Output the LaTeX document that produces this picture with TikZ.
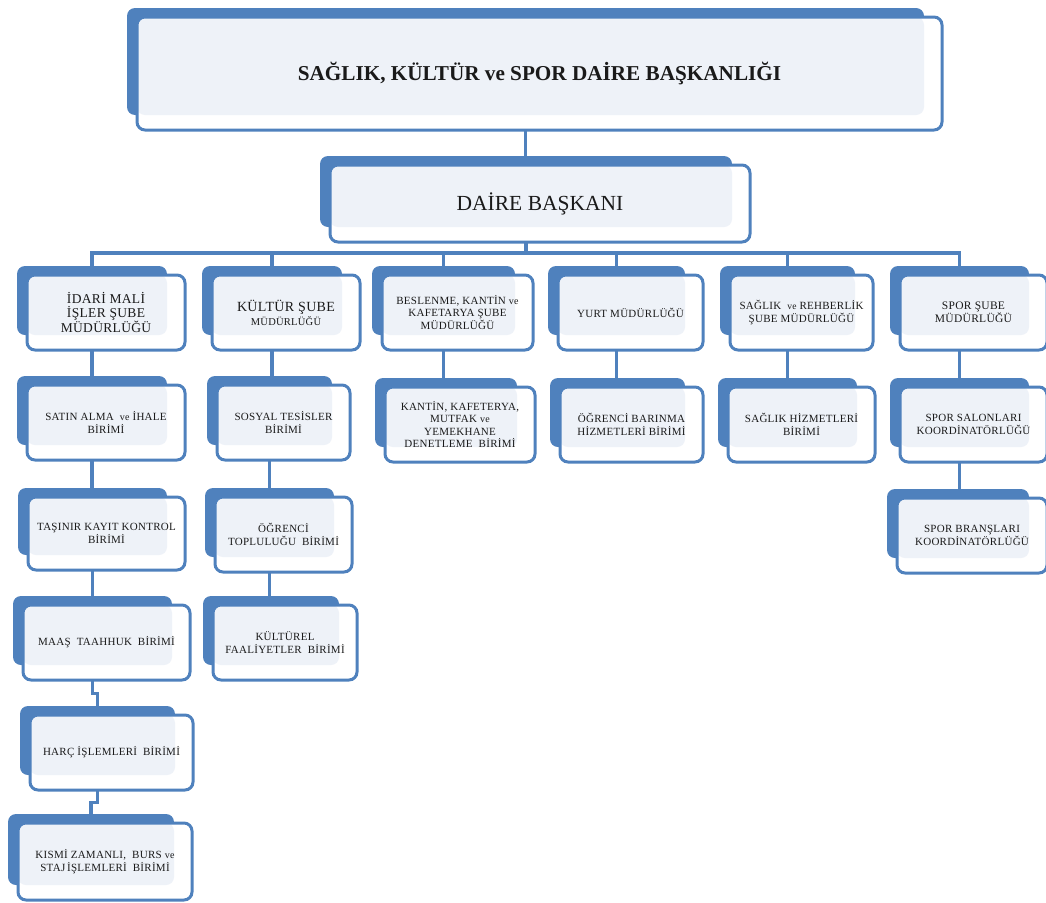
\documentclass[tikz,border=0pt]{standalone}
\usepackage{fontspec}
\setmainfont{Liberation Serif}
\newfontfamily\bxf[LetterSpace=2.5]{Liberation Serif}
\usetikzlibrary{backgrounds,calc}
\definecolor{obl}{HTML}{4F81BD}
\definecolor{olt}{HTML}{EEF2F8}
\definecolor{otx}{HTML}{1A1A1A}
\tikzset{
 backbox/.style={fill=obl, rounded corners=8pt, inner sep=0pt},
 frontbox/.style={draw=obl, line width=3pt, fill=white, rounded corners=8pt, inner sep=0pt, align=center, text=otx,
   path picture={\fill[olt] (path picture bounding box.north west) rectangle ([xshift=-18pt,yshift=15pt]path picture bounding box.south east);}},
 link/.style={draw=obl, line width=3.5pt},
}
\newcommand\orgbox[7]{%
 \pgfmathsetmacro\ocx{(#2+#4)/2}\pgfmathsetmacro\ocy{(#3+#5)/2}%
 \pgfmathsetmacro\ow{#4-#2}\pgfmathsetmacro\oh{#5-#3}%
 \node[backbox, minimum width=\ow pt-8pt, minimum height=\oh pt-6pt] (#1-b) at (\ocx-14,\ocy-12) {};
 \node[frontbox, minimum width=\ow pt, minimum height=\oh pt, font=#6] (#1) at (\ocx,\ocy) {#7};
}
\newcommand\fs[2]{\fontsize{#1}{#2}\selectfont}
\newcommand\sm{\bxf\fs{11}{12.5}}
\begin{document}
\begin{tikzpicture}[x=1pt,y=-1pt]
\useasboundingbox (0,0) rectangle (1046,902);
\orgbox{title}{137}{17}{942}{130}{\bfseries\fs{21.2}{24}}{SAĞLIK, KÜLTÜR ve SPOR DAİRE BAŞKANLIĞI}
\orgbox{daire}{330}{165}{750}{242}{\fs{21.5}{24}}{DAİRE BAŞKANI}
% row 1
\orgbox{idari}{27}{275}{185}{350}{\bxf\fs{13.5}{14}}{İDARİ MALİ\\İŞLER ŞUBE\\MÜDÜRLÜĞÜ}
\orgbox{kultur}{212}{275}{360}{350}{\bxf\fs{14}{14}}{KÜLTÜR ŞUBE\\{\fs{10.5}{14}MÜDÜRLÜĞÜ}}
\orgbox{beslenme}{382}{275}{533}{350}{\bxf\fs{11}{12.5}}{BESLENME, KANTİN {\fs{10}{10}ve}\\KAFETARYA ŞUBE\\{\fs{11}{12.5}MÜDÜRLÜĞÜ}}
\orgbox{yurt}{558}{275}{703}{350}{\bxf\fs{11}{12.5}}{YURT MÜDÜRLÜĞÜ}
\orgbox{saglik}{730}{275}{873}{350}{\bxf\fs{11}{12.5}}{SAĞLIK \ {\fs{9.5}{10}ve} REHBERLİK\\{\fs{11}{12.5}ŞUBE MÜDÜRLÜĞÜ}}
\orgbox{spor}{900}{275}{1047}{350}{\bxf\fs{11.5}{12}}{SPOR ŞUBE\\MÜDÜRLÜĞÜ}
% row 2
\orgbox{satin}{27}{385}{185}{460}{\sm}{SATIN ALMA \ {\fs{10}{10}ve} İHALE\\{\sm BİRİMİ}}
\orgbox{sosyal}{217}{385}{350}{460}{\sm}{SOSYAL TESİSLER\\BİRİMİ}
\orgbox{kantin}{385}{387}{535}{462}{\sm}{KANTİN, KAFETERYA,\\MUTFAK {\fs{10}{10}ve}\\YEMEKHANE\\DENETLEME \ BİRİMİ}
\orgbox{barinma}{560}{387}{703}{462}{\sm}{ÖĞRENCİ BARINMA\\HİZMETLERİ BİRİMİ}
\orgbox{shizmet}{728}{387}{875}{462}{\sm}{SAĞLIK HİZMETLERİ\\BİRİMİ}
\orgbox{salon}{900}{387}{1047}{462}{\sm}{SPOR SALONLARI\\KOORDİNATÖRLÜĞÜ}
% row 3
\orgbox{tasinir}{28}{497}{185}{570}{\sm}{TAŞINIR KAYIT KONTROL\\BİRİMİ}
\orgbox{topluluk}{215}{497}{352}{572}{\sm}{ÖĞRENCİ\\TOPLULUĞU \ BİRİMİ}
\orgbox{brans}{897}{498}{1047}{573}{\sm}{SPOR BRANŞLARI\\KOORDİNATÖRLÜĞÜ}
% row 4
\orgbox{maas}{23}{605}{190}{680}{\sm}{MAAŞ \ TAAHHUK \ BİRİMİ}
\orgbox{kulturel}{213}{605}{357}{680}{\sm}{KÜLTÜREL\\FAALİYETLER \ BİRİMİ}
% rows 5-6
\orgbox{harc}{30}{715}{193}{790}{\sm}{HARÇ İŞLEMLERİ \ BİRİMİ}
\orgbox{kismi}{18}{823}{192}{900}{\sm}{KISMİ ZAMANLI, \ BURS {\fs{10}{10}ve}\\{\sm STAJ\,İŞLEMLERİ \ BİRİMİ}}
\coordinate (bus) at (0,253);
\begin{scope}[on background layer]
 \draw[link] (title-b.center) -- (title-b.center |- daire-b.center);
 \draw[link] (daire-b.center) -- (daire-b.center |- bus);
 \foreach \c in {idari,kultur,beslenme,yurt,saglik,spor}
   \draw[link] (daire-b.center |- bus) -| (\c-b.center);
 \draw[link] (idari-b.center) -- (idari-b.center |- satin-b.center);
 \draw[link] (satin-b.center) -- (satin-b.center |- tasinir-b.center);
 \draw[link] (tasinir-b.center) -- (tasinir-b.center |- maas-b.center);
 \draw[link] (maas-b.center) |- ($(maas-b.center |- maas.south)!.5!(harc-b.north)$) -| (harc-b.center);
 \draw[link] (harc-b.center) |- ($(harc-b.center |- harc.south)!.5!(kismi-b.north)$) -| (kismi-b.center);
 \draw[link] (kultur-b.center) -- (kultur-b.center |- sosyal-b.center);
 \draw[link] (sosyal-b.center) -- (sosyal-b.center |- topluluk-b.center);
 \draw[link] (topluluk-b.center) -- (topluluk-b.center |- kulturel-b.center);
 \draw[link] (beslenme-b.center) -- (beslenme-b.center |- kantin-b.center);
 \draw[link] (yurt-b.center) -- (yurt-b.center |- barinma-b.center);
 \draw[link] (saglik-b.center) -- (saglik-b.center |- shizmet-b.center);
 \draw[link] (spor-b.center) -- (spor-b.center |- salon-b.center);
 \draw[link] (salon-b.center) -- (salon-b.center |- brans-b.center);
\end{scope}
\end{tikzpicture}
\end{document}
